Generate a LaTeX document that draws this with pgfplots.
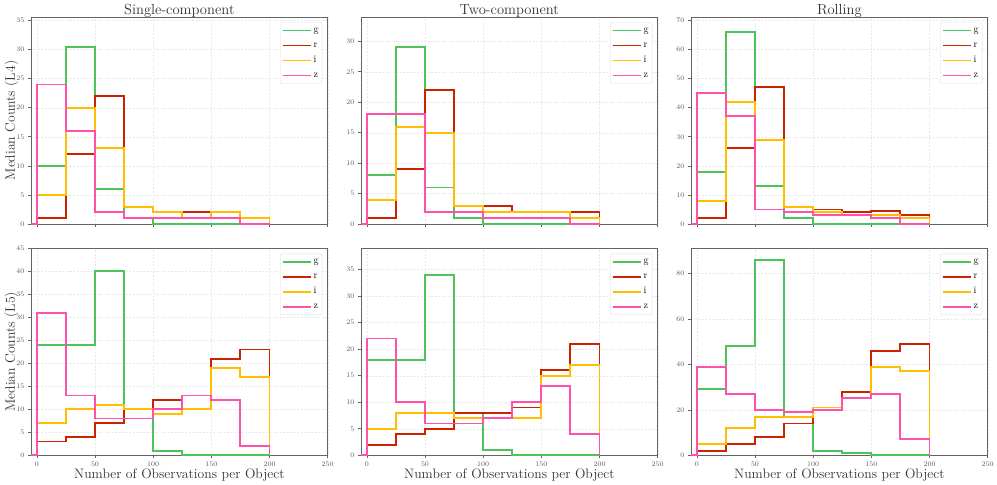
\documentclass[border=0pt]{standalone}
\usepackage{pgfplots}
\pgfplotsset{compat=1.18}

\definecolor{cg}{RGB}{76,196,90}
\definecolor{cr}{RGB}{204,34,0}
\definecolor{ci}{RGB}{255,191,0}
\definecolor{cz}{RGB}{255,80,170}
\definecolor{spine}{RGB}{100,100,100}
\definecolor{tlab}{RGB}{90,90,90}

\pgfplotsset{
  panel/.style={
    scale only axis, width=296.7pt, height=207pt,
    xmin=-5, xmax=250, ymin=0,
    xtick={0,50,...,250},
    tick pos=left, tick align=outside, major tick length=3pt,
    grid=major,
    grid style={gray!18, dash pattern=on 2pt off 1.5pt, line width=0.35pt},
    axis line style={draw=spine, line width=0.8pt},
    tick style={draw=spine, line width=0.6pt},
    ticklabel style={font=\fontsize{7.5}{9}\selectfont, text=tlab},
    title style={at={(axis description cs:0.5,1)}, anchor=base, yshift=-3pt,
      font=\fontsize{14.6}{17}\selectfont, text=black!80},
    xlabel style={at={(axis description cs:0.5,0)}, anchor=base, yshift=-23pt,
      font=\fontsize{13.7}{16}\selectfont, text=black!80},
    ylabel style={at={(axis description cs:-0.054,0.5)}, anchor=base,
      font=\fontsize{13.7}{16}\selectfont, text=black!80},
    clip=false,
    legend cell align=left,
    legend style={at={(axis description cs:1,1)}, anchor=north east,
      xshift=-5.4pt, yshift=-5.3pt, draw=gray!25, rounded corners=2pt,
      fill=white, font=\fontsize{10}{12}\selectfont,
      inner xsep=1.5pt, inner ysep=2pt, row sep=3pt,
      nodes={inner sep=2pt, text height=6pt, text depth=2pt}},
    legend image code/.code={\draw[##1] (0pt,0pt) -- (24pt,0pt); \path (0pt,0pt) -- (28pt,0pt);},
    every axis plot/.append style={const plot, line width=1.9pt, no marks},
  }
}

\begin{document}
\begin{tikzpicture}
\useasboundingbox (0pt,0pt) rectangle (997pt,-485pt);

% ---------- top row: L4 ----------
\begin{axis}[panel, at={(31pt,-224pt)}, anchor=south west,
  ymax=35.6, ytick={0,5,...,35}, xticklabels={},
  title={Single-component}, ylabel={Median Counts (L4)}]
\addplot[cg] coordinates {(-5,0) (0,10) (25,30.5) (50,6) (75,1) (100,0) (125,0) (150,0) (175,0) (200,0)};
\addplot[cr] coordinates {(-5,0) (0,1) (25,12) (50,22) (75,3) (100,2) (125,2) (150,2) (175,1) (200,0)};
\addplot[ci] coordinates {(-5,0) (0,5) (25,20) (50,13) (75,3) (100,2) (125,1) (150,2) (175,1) (200,0)};
\addplot[cz] coordinates {(-5,0) (0,24) (25,16) (50,2) (75,1) (100,1) (125,1) (150,1) (175,0) (200,0)};
\legend{g,r,i,z}
\end{axis}

\begin{axis}[panel, at={(361pt,-224pt)}, anchor=south west,
  ymax=34, ytick={0,5,...,30}, xticklabels={},
  title={Two-component}]
\addplot[cg] coordinates {(-5,0) (0,8) (25,29) (50,6) (75,1) (100,0) (125,0) (150,0) (175,0) (200,0)};
\addplot[cr] coordinates {(-5,0) (0,1) (25,9) (50,22) (75,3) (100,3) (125,2) (150,2) (175,2) (200,0)};
\addplot[ci] coordinates {(-5,0) (0,4) (25,16) (50,15) (75,3) (100,2) (125,2) (150,2) (175,1) (200,0)};
\addplot[cz] coordinates {(-5,0) (0,18) (25,18) (50,2) (75,2) (100,1) (125,1) (150,1) (175,0) (200,0)};
\legend{g,r,i,z}
\end{axis}

\begin{axis}[panel, at={(691pt,-224pt)}, anchor=south west,
  ymax=71.2, ytick={0,10,...,70}, xticklabels={},
  title={Rolling}]
\addplot[cg] coordinates {(-5,0) (0,18) (25,66) (50,13) (75,2) (100,0) (125,0) (150,0) (175,0) (200,0)};
\addplot[cr] coordinates {(-5,0) (0,2) (25,26) (50,47) (75,6) (100,5) (125,4) (150,4.5) (175,3) (200,0)};
\addplot[ci] coordinates {(-5,0) (0,8) (25,42) (50,29) (75,6) (100,4) (125,3) (150,3) (175,2) (200,0)};
\addplot[cz] coordinates {(-5,0) (0,45) (25,37) (50,5) (75,4) (100,3) (125,3) (150,2) (175,0) (200,0)};
\legend{g,r,i,z}
\end{axis}

% ---------- bottom row: L5 ----------
\begin{axis}[panel, at={(31pt,-455.3pt)}, anchor=south west,
  ymax=45, ytick={0,5,...,45},
  xlabel={Number of Observations per Object}, ylabel={Median Counts (L5)}]
\addplot[cg] coordinates {(-5,0) (0,24) (25,24) (50,40) (75,10) (100,1) (125,0) (150,0) (175,0) (200,0)};
\addplot[cr] coordinates {(-5,0) (0,3) (25,4) (50,7) (75,10) (100,12) (125,13) (150,21) (175,23) (200,0)};
\addplot[ci] coordinates {(-5,0) (0,7) (25,10) (50,11) (75,10) (100,9) (125,10) (150,19) (175,17) (200,0)};
\addplot[cz] coordinates {(-5,0) (0,31) (25,13) (50,8) (75,8) (100,10) (125,13) (150,12) (175,2) (200,0)};
\legend{g,r,i,z}
\end{axis}

\begin{axis}[panel, at={(361pt,-455.3pt)}, anchor=south west,
  ymax=39, ytick={0,5,...,35},
  xlabel={Number of Observations per Object}]
\addplot[cg] coordinates {(-5,0) (0,18) (25,18) (50,34) (75,8) (100,1) (125,0) (150,0) (175,0) (200,0)};
\addplot[cr] coordinates {(-5,0) (0,2) (25,4) (50,5) (75,8) (100,8) (125,9) (150,16) (175,21) (200,0)};
\addplot[ci] coordinates {(-5,0) (0,5) (25,8) (50,8) (75,7) (100,7) (125,7) (150,15) (175,17) (200,0)};
\addplot[cz] coordinates {(-5,0) (0,22) (25,10) (50,6) (75,6) (100,7) (125,10) (150,13) (175,4) (200,0)};
\legend{g,r,i,z}
\end{axis}

\begin{axis}[panel, at={(691pt,-455.3pt)}, anchor=south west,
  ymax=91, ytick={0,20,...,80},
  xlabel={Number of Observations per Object}]
\addplot[cg] coordinates {(-5,0) (0,29) (25,48) (50,86) (75,17) (100,2) (125,1) (150,0) (175,0) (200,0)};
\addplot[cr] coordinates {(-5,0) (0,2) (25,5) (50,8) (75,14) (100,20) (125,28) (150,46) (175,49) (200,0)};
\addplot[ci] coordinates {(-5,0) (0,5) (25,12) (50,17) (75,17) (100,21) (125,25) (150,39) (175,37) (200,0)};
\addplot[cz] coordinates {(-5,0) (0,39) (25,27) (50,20) (75,19) (100,20) (125,25) (150,27) (175,7) (200,0)};
\legend{g,r,i,z}
\end{axis}
\end{tikzpicture}
\end{document}
